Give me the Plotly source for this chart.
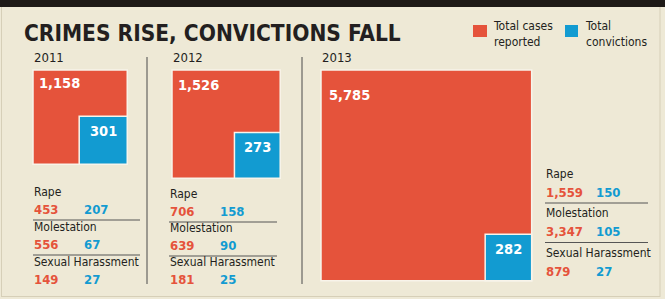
import plotly.graph_objects as go
import math

# ---------------- data ----------------
years = ["2011", "2012", "2013"]
total_cases = [1158, 1526, 5785]
total_convictions = [301, 273, 282]
categories = ["Rape", "Molestation", "Sexual Harassment"]
rape_cases = [453, 706, 1559]
rape_convictions = [207, 158, 150]
molestation_cases = [556, 639, 3347]
molestation_convictions = [67, 90, 105]
harassment_cases = [149, 181, 879]
harassment_convictions = [27, 25, 27]
title_text = "CRIMES RISE, CONVICTIONS FALL"
legend_labels = ["Total cases<br>reported", "Total<br>convictions"]

# ---------------- style ----------------
W, H = 665, 299
BG = "#EEE9D6"
RED = "#E5533B"
BLUE = "#129BD1"
DARK = "#231F20"
FONT = "'DejaVu Sans Condensed', 'Liberation Sans Narrow', 'Arial Narrow', sans-serif"
K = 2.77  # px per sqrt(case)

panel_sq_x = [33, 172, 321]
sq_top = 70
text_x = [33, 169, 545]
value_y0 = [209, 211, 192]
value_pitch = [35, 34, 39.5]
label_dy = [17, 17, 18.5]
line_x1 = [140, 277, 648]
blue_dx = 49

fig = go.Figure()
shapes = []
ann = []

# top bar and frame
shapes.append(dict(type="rect", x0=0, x1=W, y0=0, y1=7, fillcolor="#1E1A17", line_width=0))
for (x0, y0, x1, y1) in [(1.5, 7, 1.5, 297), (660, 7, 660, 297), (1.5, 296.5, 660, 296.5)]:
    shapes.append(dict(type="line", x0=x0, x1=x1, y0=y0, y1=y1, line=dict(color="#D6CFB8", width=1)))

# vertical separators
for sx in [147, 302]:
    shapes.append(dict(type="line", x0=sx, x1=sx, y0=57, y1=284, line=dict(color="#4A4A4A", width=1)))

# title
ann.append(dict(x=22, y=33, text="<b>" + title_text + "</b>", xanchor="left", yanchor="middle",
                font=dict(family=FONT, size=22.5, color=DARK), showarrow=False))

# legend
shapes.append(dict(type="rect", x0=473, x1=487, y0=25, y1=37, fillcolor=RED, line_width=0))
shapes.append(dict(type="rect", x0=565, x1=578, y0=25, y1=37, fillcolor=BLUE, line_width=0))
for lx, lab in [(491, legend_labels[0]), (583, legend_labels[1])]:
    ann.append(dict(x=lx, y=33.5, text=lab, xanchor="left", yanchor="middle", align="left",
                    font=dict(family=FONT, size=12, color=DARK), showarrow=False))

cats_cases = [rape_cases, molestation_cases, harassment_cases]
cats_conv = [rape_convictions, molestation_convictions, harassment_convictions]

for i, yr in enumerate(years):
    x0 = panel_sq_x[i]
    side = K * math.sqrt(total_cases[i])
    bside = K * math.sqrt(total_convictions[i])
    # year label
    ann.append(dict(x=x0 - 1, y=57.5, text=yr, xanchor="left", yanchor="middle",
                    font=dict(family=FONT, size=13, color=DARK), showarrow=False))
    # red square
    shapes.append(dict(type="rect", x0=x0, x1=x0 + side, y0=sq_top, y1=sq_top + side,
                       fillcolor=RED, line=dict(color="#F8F4EA", width=1.5)))
    # blue square
    bx0 = x0 + side - bside
    by0 = sq_top + side - bside
    shapes.append(dict(type="rect", x0=bx0, x1=x0 + side, y0=by0, y1=sq_top + side,
                       fillcolor=BLUE, line=dict(color="#F8F4EA", width=1.5)))
    ann.append(dict(x=x0 + 2 + 0.02 * side, y=sq_top + 4 + 0.1 * side,
                    text="<b>{:,}</b>".format(total_cases[i]), xanchor="left", yanchor="middle",
                    font=dict(family=FONT, size=14.5, color="white"), showarrow=False))
    ann.append(dict(x=bx0 + bside / 2, y=by0 + 15,
                    text="<b>{:,}</b>".format(total_convictions[i]), xanchor="center", yanchor="middle",
                    font=dict(family=FONT, size=14.5, color="white"), showarrow=False))
    # category block
    tx = text_x[i]
    for j, cat in enumerate(categories):
        vy = value_y0[i] + j * value_pitch[i]
        ly = vy - label_dy[i]
        ann.append(dict(x=tx - 1, y=ly, text=cat, xanchor="left", yanchor="middle",
                        font=dict(family=FONT, size=12, color=DARK), showarrow=False))
        ann.append(dict(x=tx - 1, y=vy, text="<b>{:,}</b>".format(cats_cases[j][i]), xanchor="left",
                        yanchor="middle", font=dict(family=FONT, size=13, color=RED), showarrow=False))
        ann.append(dict(x=tx + blue_dx, y=vy, text="<b>{:,}</b>".format(cats_conv[j][i]), xanchor="left",
                        yanchor="middle", font=dict(family=FONT, size=13, color=BLUE), showarrow=False))
        if j < len(categories) - 1:
            yl = vy + 11
            shapes.append(dict(type="line", x0=tx, x1=line_x1[i], y0=yl, y1=yl,
                               line=dict(color="#555", width=1)))

fig.update_layout(
    width=W, height=H, margin=dict(l=0, r=0, t=0, b=0),
    paper_bgcolor=BG, plot_bgcolor=BG,
    xaxis=dict(range=[0, W], visible=False, fixedrange=True),
    yaxis=dict(range=[H, 0], visible=False, fixedrange=True),
    shapes=shapes, annotations=ann, showlegend=False,
)
fig.write_html("out.html")
